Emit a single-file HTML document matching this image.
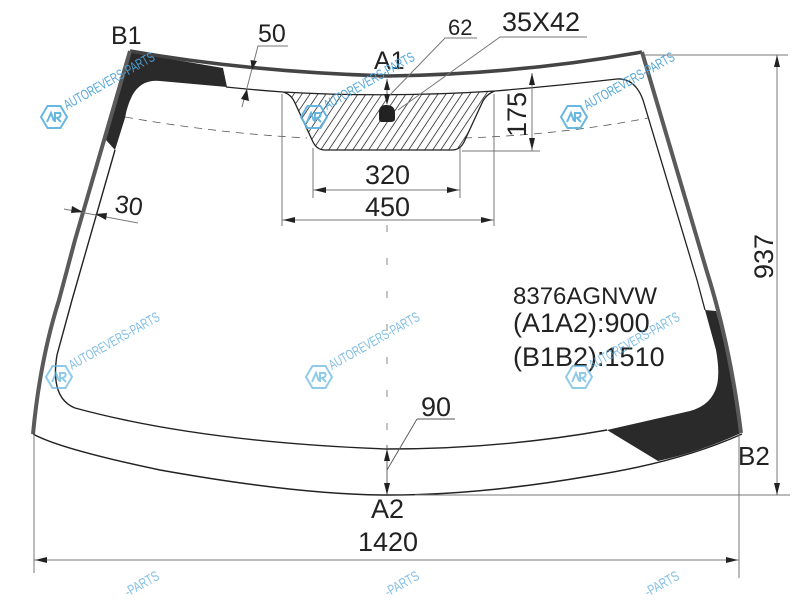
<!DOCTYPE html>
<html><head><meta charset="utf-8"><style>
html,body{margin:0;padding:0;background:#fff;width:800px;height:600px;overflow:hidden}
svg{display:block}
text{font-family:"Liberation Sans",sans-serif;fill:#222}
.d{stroke:#777;stroke-width:1;fill:none}
.w text{font-size:14px;fill:#4da3d8}
.w path{fill:none;stroke:#5fb4e0;stroke-width:2}
</style></head><body>
<svg width="800" height="600" viewBox="0 0 800 600" xmlns="http://www.w3.org/2000/svg">
<defs>
<clipPath id="tr"><path d="M283 92 Q291 94 295 103 L313 142 Q317 150 325 150 L452 150 Q460 150 464 142 L482 103 Q486 94 495 91 Q388 98 283 92Z"/></clipPath>
</defs>

<!-- dark print -->
<path d="M130 52 Q176 60 223 68 L227 87 L160 81 Q141 79 132 96 Q127 106 125 118 L115 150 L106 140Z" fill="#2a2a2a"/>
<path d="M705 310 L716 311 Q730 360 741 433 Q700 452 658 461 L607 430 L690 411 Q712 405 717 385 Q720 372 716 350Z" fill="#2a2a2a"/>

<!-- hatch -->
<g clip-path="url(#tr)" stroke="#444" stroke-width="0.9">
<path d="M250 160L300 85M258 160L308 85M266 160L316 85M274 160L324 85M282 160L332 85M290 160L340 85M298 160L348 85M306 160L356 85M314 160L364 85M322 160L372 85M330 160L380 85M338 160L388 85M346 160L396 85M354 160L404 85M362 160L412 85M370 160L420 85M378 160L428 85M386 160L436 85M394 160L444 85M402 160L452 85M410 160L460 85M418 160L468 85M426 160L476 85M434 160L484 85M442 160L492 85M450 160L500 85M458 160L508 85"/>
</g>

<!-- dashed -->
<path d="M125 117 Q215 133 307 138" fill="none" stroke="#555" stroke-width="0.8" stroke-dasharray="8 6"/>
<path d="M464 138 Q560 135 648 118" fill="none" stroke="#555" stroke-width="0.8" stroke-dasharray="8 6"/>
<path d="M387 225 V440" fill="none" stroke="#888" stroke-width="1" stroke-dasharray="7 26"/>

<!-- inner glass line -->
<path d="M226 87 Q255 90 283 92 Q291 94 295 103 L313 142 Q317 150 325 150 L452 150 Q460 150 464 142 L482 103 Q486 94 495 91 Q388 98 283 92 M495 91 Q555 86 617 79 Q635 78 643 100 L697 280 L705 310" fill="none" stroke="#222" stroke-width="1.3"/>
<path d="M115 150 L72 300 L57 355 Q50 398 75 408 Q200 442 387 449 Q500 449 607 430" fill="none" stroke="#222" stroke-width="1.4"/>

<!-- outer edge -->
<path d="M130 51 Q250 72 388 76 Q520 74 642 52" fill="none" stroke="#444" stroke-width="3.6"/>
<path d="M642 52 L707 272 Q730 345 741 433" fill="none" stroke="#5a5a5a" stroke-width="4"/>
<path d="M130 51 L75 240 L59 300 Q40 360 33 434" fill="none" stroke="#5a5a5a" stroke-width="4"/>
<path d="M33 434 Q60 449 160 470 Q300 495 388 495 Q480 495 590 476 Q680 462 742 434" fill="none" stroke="#222" stroke-width="1.5"/>

<!-- hole -->
<path d="M379 112 Q379 105 386 105 Q395 105 395 113 L395 119 Q395 122 390 122 L382 122 Q379 122 379 119Z" fill="#222"/>

<!-- dimension lines -->
<path class="d" d="M242 107 L258 46 H288"/>
<path class="d" d="M64 209 L138 223"/>
<path class="d" d="M387 98 L445 38 H477"/>
<path class="d" d="M398 110 L500 37 H587"/>
<path class="d" d="M313 148 V198 M460 148 V198 M313 190 H460"/>
<path class="d" d="M282 94 V226 M494 94 V226 M282 220 H494"/>
<path class="d" d="M532 73 V151 M462 151 H540"/>
<path class="d" d="M645 55 H788 M777 55 V495 M415 495 H790"/>
<path class="d" d="M739 434 V578 M34 434 V573 M34 560 H739"/>
<path d="M387 79 V95 M387 445 V495 M417 419 L387 470 M417 419 H455" fill="none" stroke="#555" stroke-width="0.9"/>

<!-- arrows -->
<g fill="#222">
<path d="M252 70 L250.5 60 L257 61Z"/>
<path d="M247 89 L241 99 L249 101Z"/>
<path d="M83 212 L72 206 L71 213Z"/>
<path d="M95 214 L107 213 L106 220Z"/>
<path d="M387 79 L384 90 L390 90Z"/>
<path d="M387 105 L384 94 L390 94Z"/>
<path d="M314 190 L326 187 L326 193Z"/>
<path d="M459 190 L447 187 L447 193Z"/>
<path d="M283 220 L295 217 L295 223Z"/>
<path d="M493 220 L481 217 L481 223Z"/>
<path d="M532 73 L529 85 L535 85Z"/>
<path d="M532 150 L529 138 L535 138Z"/>
<path d="M777 55 L774 67 L780 67Z"/>
<path d="M777 495 L774 483 L780 483Z"/>
<path d="M35 560 L47 557 L47 563Z"/>
<path d="M738 560 L726 557 L726 563Z"/>
<path d="M387 449 L384 461 L390 461Z"/>
<path d="M387 495 L384 483 L390 483Z"/>
</g>

<!-- labels -->
<text x="111" y="44" font-size="25">B1</text>
<text x="258" y="42" font-size="25">50</text>
<text x="448" y="35" font-size="22">62</text>
<text x="502" y="31" font-size="27">35X42</text>
<text x="374" y="69" font-size="25">A1</text>
<text x="365" y="184" font-size="27">320</text>
<text x="365" y="216" font-size="27">450</text>
<text transform="translate(526 137) rotate(-90)" font-size="27">175</text>
<text transform="translate(114 212) rotate(8)" font-size="25">30</text>
<text transform="translate(773 279) rotate(-90)" font-size="27">937</text>
<text x="513" y="304" font-size="24">8376AGNVW</text>
<text x="513" y="332" font-size="27">(A1A2):900</text>
<text x="513" y="366" font-size="27">(B1B2):1510</text>
<text x="421" y="416" font-size="27">90</text>
<text x="371" y="518" font-size="27">A2</text>
<text x="358" y="551" font-size="27">1420</text>
<text x="738" y="465" font-size="26">B2</text>

<!-- watermarks -->
<g class="w" opacity="0.95">
<g transform="translate(54 117)"><path d="M-13 0 L-6.5 -11 H6.5 L13 0 L6.5 11 H-6.5Z"/><path d="M-7 5 L-3 -4 L0 4 M1 5 V-4 H6 Q8 0 3 1 L7 5" stroke-width="1.2"/><text transform="translate(13 -7) rotate(-29.5)" textLength="102" lengthAdjust="spacingAndGlyphs">AUTOREVERS-PARTS</text></g>
<g transform="translate(314 117)"><path d="M-13 0 L-6.5 -11 H6.5 L13 0 L6.5 11 H-6.5Z"/><path d="M-7 5 L-3 -4 L0 4 M1 5 V-4 H6 Q8 0 3 1 L7 5" stroke-width="1.2"/><text transform="translate(13 -7) rotate(-29.5)" textLength="102" lengthAdjust="spacingAndGlyphs">AUTOREVERS-PARTS</text></g>
<g transform="translate(574 117)"><path d="M-13 0 L-6.5 -11 H6.5 L13 0 L6.5 11 H-6.5Z"/><path d="M-7 5 L-3 -4 L0 4 M1 5 V-4 H6 Q8 0 3 1 L7 5" stroke-width="1.2"/><text transform="translate(13 -7) rotate(-29.5)" textLength="102" lengthAdjust="spacingAndGlyphs">AUTOREVERS-PARTS</text></g>
</g>
<g class="w" opacity="0.7">
<g transform="translate(59 377)"><path d="M-13 0 L-6.5 -11 H6.5 L13 0 L6.5 11 H-6.5Z"/><path d="M-7 5 L-3 -4 L0 4 M1 5 V-4 H6 Q8 0 3 1 L7 5" stroke-width="1.2"/><text transform="translate(13 -7) rotate(-29.5)" textLength="102" lengthAdjust="spacingAndGlyphs">AUTOREVERS-PARTS</text></g>
<g transform="translate(319 377)"><path d="M-13 0 L-6.5 -11 H6.5 L13 0 L6.5 11 H-6.5Z"/><path d="M-7 5 L-3 -4 L0 4 M1 5 V-4 H6 Q8 0 3 1 L7 5" stroke-width="1.2"/><text transform="translate(13 -7) rotate(-29.5)" textLength="102" lengthAdjust="spacingAndGlyphs">AUTOREVERS-PARTS</text></g>
<g transform="translate(579 377)"><path d="M-13 0 L-6.5 -11 H6.5 L13 0 L6.5 11 H-6.5Z"/><path d="M-7 5 L-3 -4 L0 4 M1 5 V-4 H6 Q8 0 3 1 L7 5" stroke-width="1.2"/><text transform="translate(13 -7) rotate(-29.5)" textLength="102" lengthAdjust="spacingAndGlyphs">AUTOREVERS-PARTS</text></g>
<text transform="translate(128 597) rotate(-29.5)" textLength="37" lengthAdjust="spacingAndGlyphs">-PARTS</text>
<text transform="translate(388 597) rotate(-29.5)" textLength="37" lengthAdjust="spacingAndGlyphs">-PARTS</text>
<text transform="translate(648 597) rotate(-29.5)" textLength="37" lengthAdjust="spacingAndGlyphs">-PARTS</text>
</g>
</svg>
</body></html>
